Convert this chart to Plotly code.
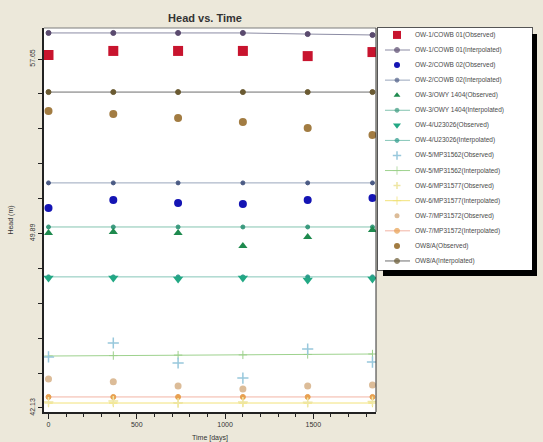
import plotly.graph_objects as go

W, H = 543, 442

# ---------------- data ----------------
times = [0, 367, 734, 1101, 1468, 1835]

ow1_obs = [57.83, 58.01, 58.01, 58.01, 57.78, 57.96]
ow1_int = [58.81, 58.81, 58.81, 58.81, 58.76, 58.72]
ow2_obs = [51.02, 51.38, 51.25, 51.20, 51.38, 51.47]
ow2_int = [52.14, 52.14, 52.14, 52.14, 52.14, 52.14]
ow3_obs = [49.91, 49.96, 49.91, 49.33, 49.73, 50.05]
ow3_int = [50.18, 50.18, 50.18, 50.18, 50.18, 50.18]
ow4_obs = [47.91, 47.91, 47.87, 47.91, 47.82, 47.87]
ow4_int = [47.96, 47.96, 47.96, 47.96, 47.96, 47.96]
ow5_obs = [44.40, 45.02, 44.13, 43.46, 44.75, 44.17]
ow5_int = [44.44, 44.46, 44.48, 44.49, 44.51, 44.53]
ow6_obs = [42.40, 42.44, 42.36, 42.40, 42.38, 42.42]
ow6_int = [42.35, 42.35, 42.35, 42.35, 42.35, 42.35]
ow7_obs = [43.42, 43.29, 43.11, 42.97, 43.11, 43.15]
ow7_int = [42.62, 42.62, 42.62, 42.62, 42.62, 42.62]
ow8_obs = [55.34, 55.20, 55.03, 54.85, 54.58, 54.27]
ow8_int = [56.18, 56.18, 56.18, 56.18, 56.18, 56.18]

series_names = [
    "OW-1/COWB 01(Observed)", "OW-1/COWB 01(Interpolated)",
    "OW-2/COWB 02(Observed)", "OW-2/COWB 02(Interpolated)",
    "OW-3/OWY 1404(Observed)", "OW-3/OWY 1404(Interpolated)",
    "OW-4/U23026(Observed)", "OW-4/U23026(Interpolated)",
    "OW-5/MP31562(Observed)", "OW-5/MP31562(Interpolated)",
    "OW-6/MP31577(Observed)", "OW-6/MP31577(Interpolated)",
    "OW-7/MP31572(Observed)", "OW-7/MP31572(Interpolated)",
    "OW8/A(Observed)", "OW8/A(Interpolated)",
]
series_values = [ow1_obs, ow1_int, ow2_obs, ow2_int, ow3_obs, ow3_int,
                 ow4_obs, ow4_int, ow5_obs, ow5_int, ow6_obs, ow6_int,
                 ow7_obs, ow7_int, ow8_obs, ow8_int]

y_tick_labels = ["57.65", "49.89", "42.13"]
x_tick_vals = [0, 500, 1000, 1500]

# ---------------- styles ----------------
# (interpolated?, marker symbol, marker size, marker color, line color)
styles = [
    (False, "square", 10, "#c8142e", None),
    (True, "circle", 5, "#5a4a6e", "#8c8ca4"),
    (False, "circle", 8, "#1414b4", None),
    (True, "circle", 4, "#4a5a84", "#9aa6bc"),
    (False, "triangle-up", 8, "#1e8a4e", None),
    (True, "circle", 4, "#3a9a7e", "#84c4b0"),
    (False, "triangle-down", 9, "#22a884", None),
    (True, "circle", 4, "#2a9a8a", "#86c6b8"),
    (False, "cross-thin-open", 8, "#98c8dc", None),
    (True, "cross-thin-open", 6, "#9cd08a", "#9ed28e"),
    (False, "cross-thin-open", 7, "#eee6a4", None),
    (True, "cross-thin-open", 6, "#f0e070", "#f2e27a"),
    (False, "circle", 7, "#dcbc98", None),
    (True, "circle", 5, "#e8a050", "#f2b4a4"),
    (False, "circle", 8, "#a27c42", None),
    (True, "circle", 5, "#6a5a32", "#6e6e6e"),
]

# plot geometry (pixels)
PL, PR, PT, PB = 44, 376, 28, 412
LL, LR, LT, LB = 378, 532, 28, 270

def px_x(p):
    return p / W

def px_y(p):
    return 1 - p / H

fig = go.Figure()

order = [i for i in range(16) if styles[i][0]] + [i for i in range(16) if not styles[i][0]]
for i in order:
    interp, sym, size, mcol, lcol = styles[i]
    if interp:
        fig.add_trace(go.Scatter(
            x=times, y=series_values[i], mode="lines+markers", name=series_names[i],
            line=dict(color=lcol, width=1),
            marker=dict(symbol=sym, size=size, color=mcol, line=dict(color=mcol, width=1)),
            showlegend=False, xaxis="x", yaxis="y"))
    else:
        fig.add_trace(go.Scatter(
            x=times, y=series_values[i], mode="markers", name=series_names[i],
            marker=dict(symbol=sym, size=size, color=mcol,
                        line=dict(color=mcol, width=1.5 if "cross" in sym else 0)),
            showlegend=False, xaxis="x", yaxis="y"))

# custom legend drawn in its own small axes
n = len(series_names)
for i in range(n):
    interp, sym, size, mcol, lcol = styles[i]
    if interp:
        fig.add_trace(go.Scatter(
            x=[7, 19, 32], y=[i, i, i], mode="lines+markers",
            line=dict(color=lcol, width=1),
            marker=dict(symbol=sym, size=[0, size, 0], color=mcol, line=dict(color=mcol, width=1)),
            showlegend=False, hoverinfo="skip", xaxis="x2", yaxis="y2"))
    else:
        fig.add_trace(go.Scatter(
            x=[19], y=[i], mode="markers",
            marker=dict(symbol=sym, size=max(size - 2, 5), color=mcol,
                        line=dict(color=mcol, width=1.5 if "cross" in sym else 0)),
            showlegend=False, hoverinfo="skip", xaxis="x2", yaxis="y2"))
    fig.add_annotation(x=35, y=i, xref="x2", yref="y2", text=series_names[i],
                       showarrow=False, xanchor="left", yanchor="middle",
                       font=dict(size=6.5, color="#4a4a4a"))

# y ticks
top_v, step = 57.65, 1.552
y_ticks = [top_v - k * step for k in range(11)]
y_text = [""] * 11
y_text[0], y_text[5], y_text[10] = y_tick_labels

# shadow of legend box
fig.add_shape(type="rect", xref="paper", yref="paper",
              x0=px_x(LR), x1=px_x(LR + 5), y0=px_y(LB + 6), y1=px_y(LT + 6),
              fillcolor="black", line=dict(width=0))
fig.add_shape(type="rect", xref="paper", yref="paper",
              x0=px_x(LL + 5), x1=px_x(LR + 5), y0=px_y(LB + 6), y1=px_y(LB),
              fillcolor="black", line=dict(width=0))
# top and right frame lines of plot
fig.add_shape(type="line", xref="paper", yref="paper",
              x0=px_x(PL), x1=px_x(PR), y0=px_y(PT), y1=px_y(PT),
              line=dict(color="#7c7c7c", width=1))
fig.add_shape(type="line", xref="paper", yref="paper",
              x0=px_x(PR), x1=px_x(PR), y0=px_y(PT), y1=px_y(PB),
              line=dict(color="#303030", width=1))

fig.update_layout(
    width=W, height=H,
    margin=dict(l=0, r=0, t=0, b=0, autoexpand=False),
    paper_bgcolor="#ece8da",
    plot_bgcolor="white",
    font=dict(family="Liberation Sans, Arial, sans-serif", size=7, color="#333333"),
    title=dict(text="<b>Head vs. Time</b>", x=205 / W, xanchor="center",
               y=1 - 18 / H, yanchor="middle", yref="container", automargin=False,
               font=dict(size=11, color="#333333")),
    xaxis=dict(domain=[px_x(PL), px_x(PR)], range=[-25.5, 1855], automargin=False,
               tickvals=x_tick_vals, ticks="outside", ticklen=5, tickcolor="#222",
               minor=dict(dtick=100, tick0=0, ticks="outside", ticklen=3, tickcolor="#222"),
               showgrid=False, zeroline=False, showline=True, linecolor="#222", linewidth=2,
               title=dict(text="Time [days]", font=dict(size=7)),
               anchor="y", tickfont=dict(size=7)),
    yaxis=dict(domain=[px_y(PB), px_y(PT)], range=[41.95, 59.03], automargin=False,
               tickvals=y_ticks, ticktext=y_text, tickangle=-90,
               ticks="outside", ticklen=4, tickcolor="#222",
               showgrid=False, zeroline=False, showline=True, linecolor="#222", linewidth=2,
               title=dict(text="Head (m)", font=dict(size=7)),
               anchor="x", tickfont=dict(size=7)),
    xaxis2=dict(domain=[px_x(LL), px_x(LR)], range=[0, LR - LL], automargin=False,
                showticklabels=False, ticks="", showgrid=False, zeroline=False,
                showline=True, mirror=True, linecolor="#555", linewidth=1,
                anchor="y2", fixedrange=True),
    yaxis2=dict(domain=[px_y(LB), px_y(LT)], range=[15.6, -0.46], automargin=False,
                showticklabels=False, ticks="", showgrid=False, zeroline=False,
                showline=True, mirror=True, linecolor="#555", linewidth=1,
                anchor="x2", fixedrange=True),
    showlegend=False,
)

fig.write_html(
    "out.html",
    config={"displayModeBar": False},
    post_script="document.body.style.margin='0';document.body.style.overflow='hidden';",
)
